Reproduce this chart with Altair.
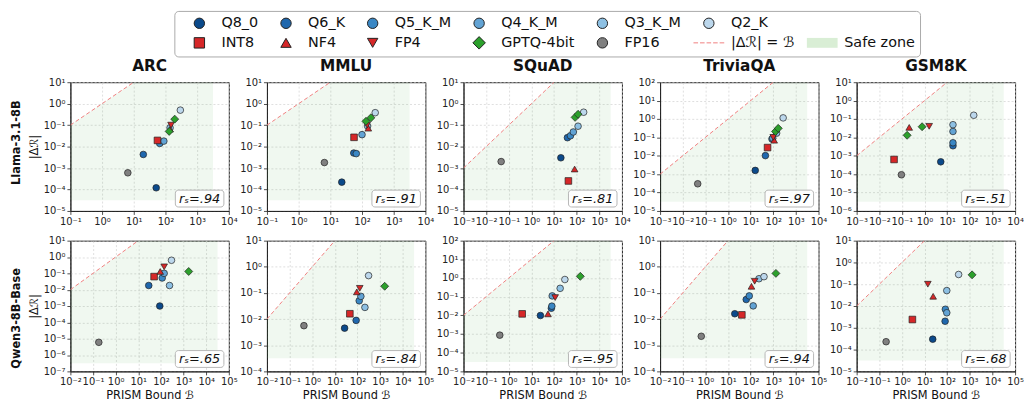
import altair as alt
import pandas as pd

# ---------------- categories / legend entries ----------------
methods = ["Q8_0", "Q6_K", "Q5_K_M", "Q4_K_M", "Q3_K_M", "Q2_K", " ",
           "INT8", "NF4", "FP4", "GPTQ-4bit", "FP16", "|Δℛ| = ℬ", "Safe zone"]

tasks = ["ARC", "MMLU", "SQuAD", "TriviaQA", "GSM8K"]
models = ["Llama-3.1-8B", "Qwen3-8B-Base"]

rs_llama = [".94", ".91", ".81", ".97", ".51"]
rs_qwen = [".65", ".84", ".95", ".94", ".68"]

# axis limits (powers of ten)
llama_xlim = [(-1, 4), (-1, 4), (-3, 4), (-3, 4), (-3, 4)]
llama_ylim = [(-5, 1), (-5, 1), (-5, 1), (-5, 2), (-6, 1)]
qwen_xlim = [(-2, 5), (-2, 5), (-2, 5), (-2, 5), (-2, 5)]
qwen_ylim = [(-7, 1), (-4, 1), (-5, 2), (-4, 1), (-5, 1)]

# ---------------- data: Llama-3.1-8B ----------------
llama_methods = ["Q8_0", "Q6_K", "Q5_K_M", "Q4_K_M", "Q3_K_M", "Q2_K",
                 "INT8", "NF4", "FP4", "GPTQ-4bit", "GPTQ-4bit", "FP16"]

llama_arc_B = [51, 20, 66, 89, 140, 295, 56, 140, 150, 131, 196, 6.5]
llama_arc_R = [1.2e-4, 4.3e-3, 0.014, 0.018, 0.075, 0.5, 0.0194, 0.065, 0.1, 0.051, 0.19, 6e-4]

llama_mmlu_B = [23, 55, 66, 100, 150, 261, 56, 158, 145, 133, 191, 6.5]
llama_mmlu_R = [2.2e-4, 0.005, 0.0047, 0.036, 0.09, 0.38, 0.027, 0.072, 0.1, 0.15, 0.22, 0.0018]

llama_squad_B = [20, 39, 53, 71, 115, 203, 43, 81, None, 85, 115, 0.046]
llama_squad_R = [0.003, 0.026, 0.032, 0.048, 0.089, 0.4, 2.5e-4, 9e-4, None, 0.23, 0.32, 0.002]

llama_trivia_B = [16, 45, 88, 95, 141, 274, 56, 110, 100, 126, 166, 0.046]
llama_trivia_R = [1.6e-3, 0.0102, 0.082, 0.09, 0.17, 1.15, 0.028, 0.07, 0.1, 0.21, 0.31, 3e-4]

llama_gsm_B = [5.2, 18, 18, 18, 18, 149, 0.045, 0.21, 1.6, 0.17, 0.78, 0.095]
llama_gsm_R = [4.7e-4, 0.0035, 0.0051, 0.021, 0.049, 0.16, 6.3e-4, 0.035, 0.04, 0.013, 0.038, 9.3e-5]

# ---------------- data: Qwen3-8B-Base ----------------
qwen_methods = ["Q8_0", "Q6_K", "Q5_K_M", "Q4_K_M", "Q3_K_M", "Q2_K",
                "INT8", "NF4", "FP4", "GPTQ-4bit", "FP16"]

qwen_arc_B = [89, 29, 114, 139, 240, 293, 50, 93, 139, 1690, 0.18]
qwen_arc_R = [1e-3, 0.018, 0.052, 0.1, 0.018, 0.63, 0.063, 0.13, 0.25, 0.13, 6e-6]

qwen_mmlu_B = [27, 87, 119, 141, 213, 309, 46, 93, 126, 1590, 0.43]
qwen_mmlu_R = [0.0045, 0.0089, 0.05, 0.074, 0.028, 0.46, 0.016, 0.11, 0.15, 0.18, 0.0056]

qwen_squad_B = [25, 76, 80, 83, 186, 300, 3.9, 54, 112, 1450, 0.4]
qwen_squad_R = [0.0098, 0.024, 0.031, 0.11, 0.28, 0.83, 0.012, 0.012, 0.09, 1.23, 8.7e-4]

qwen_trivia_B = [20, 64, 87, 130, 234, 390, 41, 109, 151, 1310, 0.66]
qwen_trivia_R = [0.016, 0.056, 0.077, 0.032, 0.35, 0.42, 0.0145, 0.18, 0.28, 0.56, 0.0022]

qwen_gsm_B = [23, 81, 83, 96, 96, 320, 2.9, 24, 14, 1260, 0.2]
qwen_gsm_R = [3e-4, 0.002, 0.0071, 0.0049, 0.051, 0.28, 0.0024, 0.028, 0.1, 0.27, 2.3e-4]

llama_B = [llama_arc_B, llama_mmlu_B, llama_squad_B, llama_trivia_B, llama_gsm_B]
llama_R = [llama_arc_R, llama_mmlu_R, llama_squad_R, llama_trivia_R, llama_gsm_R]
qwen_B = [qwen_arc_B, qwen_mmlu_B, qwen_squad_B, qwen_trivia_B, qwen_gsm_B]
qwen_R = [qwen_arc_R, qwen_mmlu_R, qwen_squad_R, qwen_trivia_R, qwen_gsm_R]

# ---------------- styles ----------------
fill_colors = ["#0b4a8b", "#1f67ad", "#3a87c4", "#62a3d4", "#8dc0e3", "#bcd7ec", "transparent",
               "#d62728", "#d62728", "#d62728", "#2ca02c", "#808080", "transparent", "#d9eed5"]
stroke_colors = ["#222222"] * 6 + ["transparent"] + ["#222222"] * 5 + ["#f08080", "transparent"]
DASH_PATH = "M-2.96,0H-2.08M-1.7,0H-0.82M-0.44,0H0.44M0.82,0H1.7M2.08,0H2.96"
ZONE_PATH = "M-2.96,-0.95H2.96V0.95H-2.96Z"
DIAMOND = "M0,-1.2L1.2,0L0,1.2L-1.2,0Z"
shapes = ["circle"] * 6 + ["circle", "square", "triangle-up", "triangle-down", DIAMOND,
                           "circle", DASH_PATH, ZONE_PATH]

SUP = {"-": "⁻", "0": "⁰", "1": "¹", "2": "²", "3": "³", "4": "⁴",
       "5": "⁵", "6": "⁶", "7": "⁷", "8": "⁸", "9": "⁹"}


def sup(k):
    return "10" + "".join(SUP[c] for c in str(k))


expr = "'" + sup(6) + "'"
for k in reversed(range(-8, 6)):
    expr = f"datum.value < {10.0 ** (k + 0.5):.6g} ? '{sup(k)}' : ({expr})"
LABEL_EXPR = expr

legend = alt.Legend(
    orient="none", legendX=105, legendY=-72, columns=7, direction="horizontal",
    title=None, labelFontSize=14.5, labelFont="DejaVu Sans", labelColor="#111",
    symbolSize=110, symbolStrokeWidth=1, labelOffset=15, symbolOffset=13,
    columnPadding=7.5, rowPadding=3, padding=5, strokeColor="#aaaaaa",
    fillColor="white", cornerRadius=4, labelLimit=300,
)

fill_scale = alt.Scale(domain=methods, range=fill_colors)
stroke_scale = alt.Scale(domain=methods, range=stroke_colors)
shape_scale = alt.Scale(domain=methods, range=shapes)


def panel(row, col, task, mlist, B, R, xl, yl, rs):
    W = 160
    H = 130 if row == 0 else 132
    xdom = [10.0 ** xl[0], 10.0 ** xl[1]]
    ydom = [10.0 ** yl[0], 10.0 ** yl[1]]
    xaxis = alt.Axis(values=[10.0 ** k for k in range(xl[0], xl[1] + 1)], labelExpr=LABEL_EXPR,
                     title=("PRISM Bound  ℬ" if row == 1 else None), titlePadding=3)
    yaxis = alt.Axis(values=[10.0 ** k for k in range(yl[0], yl[1] + 1)], labelExpr=LABEL_EXPR,
                     title=("|Δℛ|" if col == 0 else None), titlePadding=4)
    xs = alt.Scale(type="log", domain=xdom)
    ys = alt.Scale(type="log", domain=ydom)
    X = alt.X("B:Q", scale=xs, axis=xaxis)
    Y = alt.Y("R:Q", scale=ys, axis=yaxis)

    x_zone = 10.0 ** (xl[1] - 0.5)
    y_zone = 10.0 ** (yl[0] + 0.5)
    zone_df = pd.DataFrame({"B": [xdom[0], ydom[1], x_zone],
                            "R": [xdom[0], ydom[1], ydom[1]],
                            "R2": [y_zone] * 3})
    diag_df = pd.DataFrame({"B": [xdom[0], ydom[1]], "R": [xdom[0], ydom[1]]})
    pts_df = pd.DataFrame({"method": mlist, "B": B, "R": R}).dropna()
    lab_df = pd.DataFrame({"label": [f"rₛ={rs}"]})

    zone = alt.Chart(zone_df).mark_area(color="#2ca02c", opacity=0.07, clip=True).encode(
        x=X, y=Y, y2=alt.Y2("R2:Q"))
    diag = alt.Chart(diag_df).mark_line(color="#f08080", strokeDash=[4, 2.5], strokeWidth=1,
                                        clip=True).encode(x=X, y=Y)
    pts = alt.Chart(pts_df).mark_point(filled=True, size=45, strokeWidth=0.7, opacity=1).encode(
        x=X, y=Y,
        fill=alt.Fill("method:N", scale=fill_scale, legend=legend),
        stroke=alt.Stroke("method:N", scale=stroke_scale, legend=legend),
        shape=alt.Shape("method:N", scale=shape_scale, legend=legend),
    )
    box = alt.Chart(lab_df).mark_rect(fill="white", stroke="#b0b0b0", strokeWidth=1,
                                      cornerRadius=3, opacity=0.9).encode(
        x=alt.value(W - 54), x2=alt.value(W - 5), y=alt.value(H - 21), y2=alt.value(H - 4))
    txt = alt.Chart(lab_df).mark_text(fontStyle="italic", fontSize=13, align="center",
                                      baseline="middle", color="#111").encode(
        x=alt.value(W - 29.5), y=alt.value(H - 12), text="label:N")

    ch = alt.layer(zone, diag, pts, box, txt).properties(width=W, height=H)
    if row == 0:
        ch = ch.properties(title=alt.TitleParams(task, fontSize=15.5, fontWeight="bold",
                                                 offset=3, anchor="middle", color="#111"))
    return ch


rows = []
for r, (model, Bs, Rs, xls, yls, rss, ml) in enumerate([
        (models[0], llama_B, llama_R, llama_xlim, llama_ylim, rs_llama, llama_methods),
        (models[1], qwen_B, qwen_R, qwen_xlim, qwen_ylim, rs_qwen, qwen_methods)]):
    panels = [panel(r, c, tasks[c], ml, Bs[c], Rs[c], xls[c], yls[c], rss[c]) for c in range(5)]
    row = alt.hconcat(*panels, spacing=38.5, bounds="flush").properties(
        title=alt.TitleParams(model, orient="left", anchor="middle", fontSize=11.5,
                              fontWeight="bold", offset=5, color="#111"))
    rows.append(row)

chart = alt.vconcat(*rows, spacing=8).properties(
    padding={"left": 3, "top": 0, "right": 0, "bottom": 0}
).configure(
    font="DejaVu Sans"
).configure_view(stroke="#222222", strokeWidth=1).configure_axis(
    labelFontSize=10, labelColor="#222", tickColor="#222", domainColor="#222", tickSize=3.5,
    tickWidth=0.8, gridColor="#d0d0d0", gridDash=[2, 2], gridWidth=0.7, labelFlush=False,
    labelOverlap=False, titleFontSize=11.5, titleFontWeight="normal", titleColor="#111",
    labelPadding=2, labelFont="DejaVu Sans", titleFont="DejaVu Sans")

chart.save("out.html", embed_options={"renderer": "svg", "actions": False})
